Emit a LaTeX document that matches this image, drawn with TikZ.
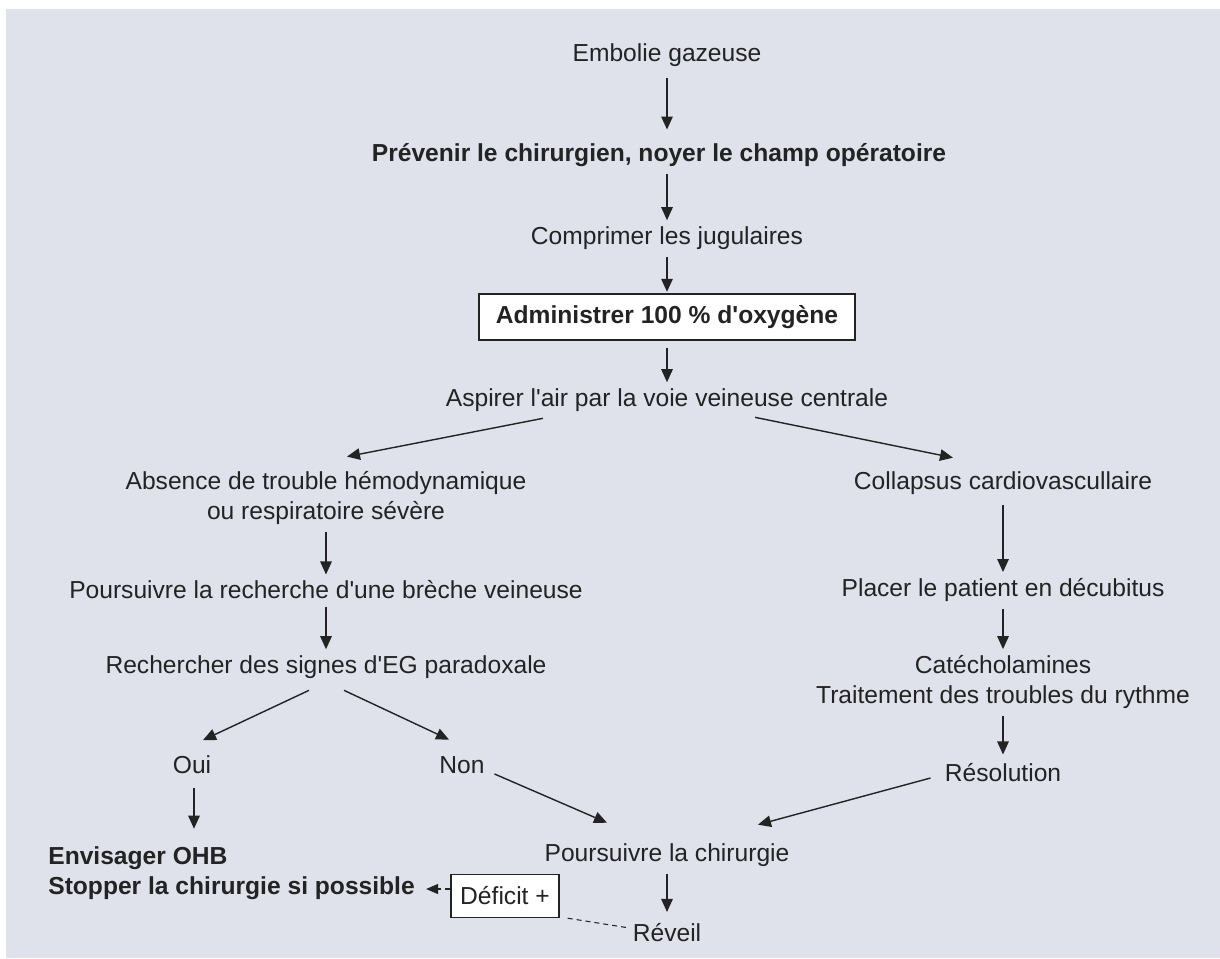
\documentclass[tikz,border=0pt]{standalone}
\usepackage{fontspec}
\setmainfont{Liberation Sans}
\usetikzlibrary{arrows.meta}
\definecolor{fond}{RGB}{223,226,235}
\definecolor{encre}{RGB}{35,35,35}
\newcommand{\apos}{\textquotesingle}

\begin{document}
\begin{tikzpicture}[node distance={16mm},
    etape/.style={inner sep=0pt, align=center, text=encre, font=\fontsize{14pt}{17pt}\selectfont},
    gras/.style={etape, font=\fontsize{14pt}{17pt}\selectfont\bfseries},
    cadre/.style={draw=encre, line width=0.8pt, fill=white},
    fleche/.style={-{Triangle[length=2.6mm,width=2.3mm]}, line width=0.8pt, draw=encre},
    vert/.style={fleche, shorten <=1.4mm, shorten >=1.2mm},
    tirets/.style={draw=encre, line width=0.6pt, dash pattern=on 1mm off 0.8mm}]
    \useasboundingbox (0,0) rectangle (244mm,-191.6mm);
    \fill[fond] (1.2mm,-1.8mm) rectangle (244mm,-191.6mm);

    \node[etape] (1) at (133.4mm,-11mm) {Embolie gazeuse};
    \node[gras] (2) [below of=1, xshift=-1.6mm, yshift=-4mm] {Prévenir le chirurgien, noyer le champ opératoire};
    \node[etape] (3) [below of=2, xshift=1.6mm, yshift=-0.6mm] {Comprimer les jugulaires};
    \node[gras, cadre, minimum width=75.2mm, minimum height=9.2mm] (4) [below of=3, yshift=0.2mm] {Administrer 100 \% d\apos oxygène};
    \node[etape] (5) [below of=4, yshift=-0.6mm] {Aspirer l\apos air par la voie veineuse centrale};

    \node[etape] (6) [below of=5, xshift=-68.2mm, yshift=-3.6mm] {Absence de trouble hémodynamique\\ou respiratoire sévère};
    \node[etape] (8) [below of=6, yshift=-2.4mm] {Poursuivre la recherche d\apos une brèche veineuse};
    \node[etape] (9) [below of=8, yshift=0.6mm] {Rechercher des signes d\apos EG paradoxale};
    \node[etape] (12) [below of=9, xshift=-26.8mm, yshift=-3.6mm] {Oui};
    \node[etape] (13) [below of=9, xshift=27.2mm, yshift=-3.6mm] {Non};
    \node[gras, align=left, anchor=west] (15) [below of=12, anchor=west, xshift=-28.8mm, yshift=-5.6mm] {Envisager OHB\\Stopper la chirurgie si possible};

    \node[etape] (7) [below of=5, xshift=67.2mm, yshift=-0.6mm] {Collapsus cardiovascullaire};
    \node[etape] (10) [below of=7, yshift=-5.4mm] {Placer le patient en décubitus};
    \node[etape] (11) [below of=10, yshift=-2.4mm] {Catécholamines\\Traitement des troubles du rythme};
    \node[etape] (14) [below of=11, yshift=-2.2mm] {Résolution};

    \node[etape] (16) [below of=13, xshift=41mm, yshift=-2mm] {Poursuivre la chirurgie};
    \node[etape] (17) [below of=16, yshift=0.4mm] {Réveil};
    \node[etape, cadre, minimum width=21.6mm, minimum height=8.6mm] (18) [left of=17, xshift=-16.4mm, yshift=7.4mm] {Déficit +};
    \coordinate (19) at ([yshift=1.4mm]18.west);

    \draw[vert, shorten <=2.3mm, shorten >=2.7mm] (1) -- (1 |- 2.north);
    \draw[vert] (1 |- 2.south) -- (3);
    \draw[vert, shorten >=0.3mm] (3) -- (4);
    \draw[vert] (4) -- (5);
    \draw[fleche] ([xshift=-24.8mm,yshift=-1.3mm]5.south) -- ([xshift=4.2mm,yshift=2.9mm]6.north);
    \draw[fleche] ([xshift=17.6mm,yshift=-1.1mm]5.south) -- ([xshift=-10mm,yshift=2.7mm]7.north);
    \draw[vert] (6) -- (8);
    \draw[vert] (8) -- (9);
    \draw[vert, shorten <=2mm] (7) -- (10);
    \draw[vert] (10) -- (11);
    \draw[vert, shorten >=1.8mm] (11) -- (14);
    \draw[fleche] ([xshift=-3.4mm,yshift=-2.3mm]9.south) -- ([xshift=2.2mm,yshift=3.1mm]12.north);
    \draw[fleche] ([xshift=3.6mm,yshift=-2.3mm]9.south) -- ([xshift=-2.6mm,yshift=3.3mm]13.north);
    \draw[fleche] ([xshift=1.9mm]13.south east) -- ([xshift=-12mm,yshift=4.1mm]16.north);
    \draw[fleche] ([xshift=-2.8mm,yshift=-1mm]14.west) -- ([xshift=18.2mm,yshift=3.7mm]16.north);
    \draw[fleche] ([xshift=0.4mm,yshift=-2.8mm]12.south) -- ([xshift=0.4mm,yshift=3.5mm]12.south |- 15.north);
    \draw[vert, shorten >=2.3mm] (16) -- (17);
    \draw[tirets] ([xshift=1.6mm]18.south east) -- ([xshift=-0.6mm,yshift=1mm]17.west);
    \draw[tirets, -{Triangle[length=2.4mm,width=2mm]}, shorten >=2.2mm] (19) -- (19 -| 15.east);
\end{tikzpicture}
\end{document}
